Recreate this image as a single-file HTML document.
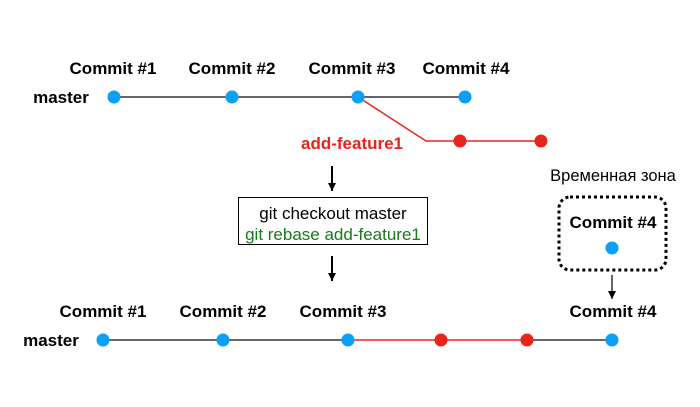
<!DOCTYPE html>
<html><head><meta charset="utf-8"><style>html,body{margin:0;padding:0;background:#fff}</style></head>
<body>
<svg width="700" height="402" xmlns="http://www.w3.org/2000/svg" font-family="Liberation Sans, sans-serif">
<defs><marker id="a" markerWidth="8" markerHeight="8" refX="8" refY="4" orient="auto" markerUnits="userSpaceOnUse"><path d="M0,0 L8,4 L0,8 z" fill="#000"/></marker></defs>
<line x1="114" y1="97" x2="465" y2="97" stroke="#333" stroke-width="1.5"/>
<polyline points="358,97 426,141 541,141" fill="none" stroke="#e8251a" stroke-width="1.5"/>
<line x1="103" y1="340" x2="348" y2="340" stroke="#333" stroke-width="1.5"/>
<line x1="348" y1="340" x2="527" y2="340" stroke="#e8251a" stroke-width="1.5"/>
<line x1="527" y1="340" x2="612" y2="340" stroke="#333" stroke-width="1.5"/>
<g font-weight="bold" font-size="17" fill="#000" text-anchor="middle">
<text x="113" y="74">Commit #1</text>
<text x="232" y="74">Commit #2</text>
<text x="352" y="74">Commit #3</text>
<text x="466" y="74">Commit #4</text>
<text x="61" y="103">master</text>
<text x="103" y="317">Commit #1</text>
<text x="223" y="317">Commit #2</text>
<text x="343" y="317">Commit #3</text>
<text x="613" y="317">Commit #4</text>
<text x="51" y="346">master</text>
<text x="613" y="228">Commit #4</text>
<text x="352" y="149" fill="#e8251a">add-feature1</text>
</g>
<text x="613" y="181" font-size="16.5" text-anchor="middle">Временная зона</text>
<g fill="#0aa0f5"><circle cx="114" cy="97" r="6.5"/><circle cx="232" cy="97" r="6.5"/><circle cx="358" cy="97" r="6.5"/><circle cx="465" cy="97" r="6.5"/>
<circle cx="103" cy="340" r="6.5"/><circle cx="223" cy="340" r="6.5"/><circle cx="348" cy="340" r="6.5"/><circle cx="612" cy="340" r="6.5"/><circle cx="612" cy="248" r="6.5"/></g>
<g fill="#e8251a"><circle cx="460" cy="141" r="6.5"/><circle cx="541" cy="141" r="6.5"/><circle cx="441" cy="340" r="6.5"/><circle cx="527" cy="340" r="6.5"/></g>
<line x1="332" y1="166" x2="332" y2="191" stroke="#000" stroke-width="2" marker-end="url(#a)"/>
<line x1="332" y1="256" x2="332" y2="281" stroke="#000" stroke-width="2" marker-end="url(#a)"/>
<line x1="612" y1="275" x2="612" y2="299" stroke="#000" stroke-width="1.2" marker-end="url(#a)"/>
<rect x="238.5" y="197.5" width="189" height="47" fill="#fff" stroke="#000" stroke-width="1"/>
<text x="333" y="219" font-size="17" text-anchor="middle">git checkout master</text>
<text x="333" y="240" font-size="17" text-anchor="middle" fill="#1a7a1a">git rebase add-feature1</text>
<rect x="559" y="197" width="107" height="73" rx="11" fill="none" stroke="#000" stroke-width="3" stroke-dasharray="3,3"/>
</svg>
</body></html>
